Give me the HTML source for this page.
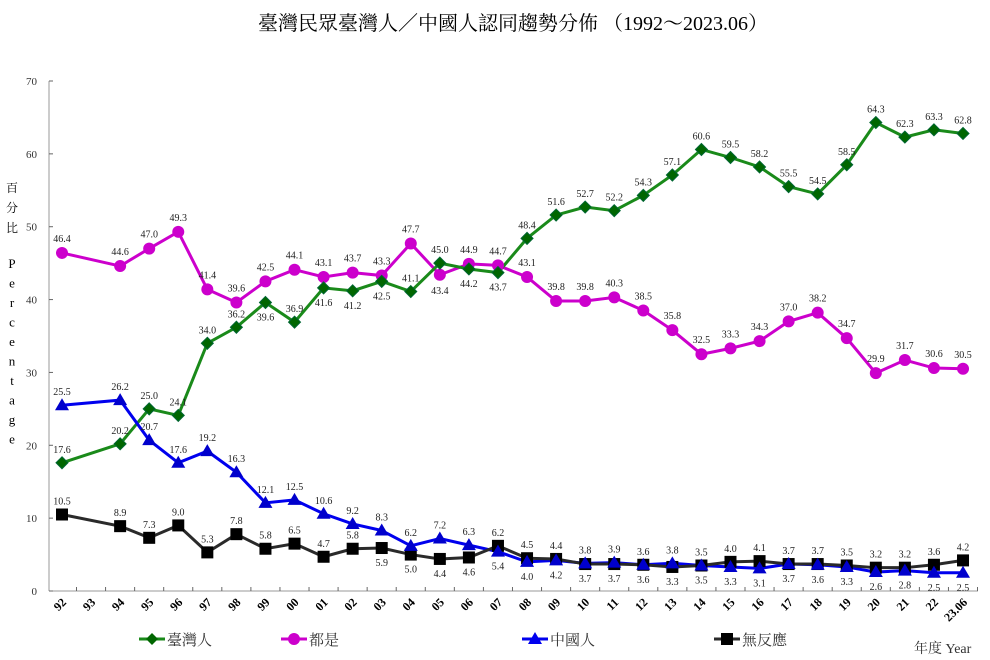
<!DOCTYPE html>
<html><head><meta charset="utf-8"><style>
body{margin:0;background:#fff;width:990px;height:660px;overflow:hidden}
svg{display:block;font-family:"Liberation Serif","Noto Serif CJK SC",serif}
</style></head><body>
<svg id="s" width="990" height="660" xmlns="http://www.w3.org/2000/svg"></svg>
<script>
const s=document.getElementById('s');let h='';
const X0=62,DX=29.065,Y0=591,K=510/70;
const X=i=>X0+i*DX, Y=v=>Y0-v*K;
h+=`<text x="513" y="30" text-anchor="middle" font-size="20" font-family="Liberation Serif,Noto Serif CJK TC,serif">臺灣民眾臺灣人／中國人認同趨勢分佈 （1992～2023.06）</text>`;
h+=`<line x1="49" y1="81" x2="49" y2="591" stroke="#999"/><line x1="49" y1="591" x2="978" y2="591" stroke="#999"/>`;
for(let v=0;v<=70;v+=10){h+=`<line x1="49" x2="53" y1="${Y(v)}" y2="${Y(v)}" stroke="#666"/><text x="37" y="${Y(v)+4}" text-anchor="end" font-size="11" fill="#333">${v}</text>`;}
const labs=['92','93','94','95','96','97','98','99','00','01','02','03','04','05','06','07','08','09','10','11','12','13','14','15','16','17','18','19','20','21','22','23.06'];
labs.forEach((l,i)=>{const x=X(i)+14.5;h+=`<line x1="${x}" x2="${x}" y1="587" y2="591" stroke="#666"/>`;
h+=`<text transform="translate(${X(i)+5},${603}) rotate(-45)" text-anchor="end" font-size="12" font-weight="bold">${l}</text>`;});
['百','分','比'].forEach((c,i)=>h+=`<text x="12" y="${192+i*20}" font-size="12" text-anchor="middle">${c}</text>`);
'Percentage'.split('').forEach((c,i)=>h+=`<text x="12" y="${268+i*19.5}" font-size="13" text-anchor="middle">${c}</text>`);
const xs=[0,2,3,4,5,6,7,8,9,10,11,12,13,14,15,16,17,18,19,20,21,22,23,24,25,26,27,28,29,30,31];
const T=[17.6,20.2,25.0,24.1,34.0,36.2,39.6,36.9,41.6,41.2,42.5,41.1,45.0,44.2,43.7,48.4,51.6,52.7,52.2,54.3,57.1,60.6,59.5,58.2,55.5,54.5,58.5,64.3,62.3,63.3,62.8];
const Tp='aaaaaababbbaabb'+'aaaaaaaaaaaaaaaa';
const B=[46.4,44.6,47.0,49.3,41.4,39.6,42.5,44.1,43.1,43.7,43.3,47.7,43.4,44.9,44.7,43.1,39.8,39.8,40.3,38.5,35.8,32.5,33.3,34.3,37.0,38.2,34.7,29.9,31.7,30.6,30.5];
const Bp='aaaaaaaaaaaabaaaaaaaaaaaaaaaaaa';
const C=[25.5,26.2,20.7,17.6,19.2,16.3,12.1,12.5,10.6,9.2,8.3,6.2,7.2,6.3,5.4,4.0,4.2,3.8,3.9,3.6,3.8,3.5,3.3,3.1,3.7,3.6,3.3,2.6,2.8,2.5,2.5];
const Cp='aaaaaaaaaaaaaabbbaaaaabbbbbbbbb';
const N=[10.5,8.9,7.3,9.0,5.3,7.8,5.8,6.5,4.7,5.8,5.9,5.0,4.4,4.6,6.2,4.5,4.4,3.7,3.7,3.6,3.3,3.5,4.0,4.1,3.7,3.7,3.5,3.2,3.2,3.6,4.2];
const Np='aaaaaaaaaa'+'bbbb'+'aaa'+'bbbbb'+'aaaaaaaaa';
function series(d,col){
 const pts=d.map((v,i)=>[X(xs[i]),Y(v)]);
 h+=`<polyline points="${pts.map(q=>q.join(',')).join(' ')}" fill="none" stroke="${col}" stroke-width="3"/>`;
 return pts;
}
function marks(pts,col,mk,d,p,off){
 pts.forEach(([x,y],i)=>{
  if(mk=='d')h+=`<polygon points="${x},${y-6} ${x+6},${y} ${x},${y+6} ${x-6},${y}" fill="${col}" stroke="#063" stroke-width="1"/>`;
  if(mk=='c')h+=`<circle cx="${x}" cy="${y}" r="6" fill="${col}"/>`;
  if(mk=='t')h+=`<polygon points="${x},${y-7} ${x+7},${y+5} ${x-7},${y+5}" fill="${col}"/>`;
  if(mk=='s')h+=`<rect x="${x-6}" y="${y-6}" width="12" height="12" fill="#000"/>`;
  const ty=p[i]=='a'?y-off:y+off+8;
  h+=`<text x="${x}" y="${ty}" font-size="10" text-anchor="middle" fill="#222">${d[i].toFixed(1)}</text>`;
 });
}
const pb=series(B,'#cc00cc'),pt=series(T,'#1a8a1a'),pc=series(C,'#0000ee'),pn=series(N,'#2a2a2a');
marks(pn,'#000','s',N,Np,10);marks(pc,'#0000cc','t',C,Cp,10);marks(pb,'#cc00cc','c',B,Bp,11);marks(pt,'#006600','d',T,Tp,10);
function leg(x,col,mk,t){h+=`<line x1="${x}" x2="${x+26}" y1="639" y2="639" stroke="${col}" stroke-width="3"/>`;
 const c=x+13;if(mk=='d')h+=`<polygon points="${c},633 ${c+6},639 ${c},645 ${c-6},639" fill="#006600"/>`;
 if(mk=='c')h+=`<circle cx="${c}" cy="639" r="6" fill="${col}"/>`;
 if(mk=='t')h+=`<polygon points="${c},632 ${c+7},644 ${c-7},644" fill="${col}"/>`;
 if(mk=='s')h+=`<rect x="${c-6}" y="633" width="12" height="12" fill="#000"/>`;
 h+=`<text x="${x+28}" y="645" font-size="15" font-family="Liberation Serif,Noto Serif CJK TC,serif" fill="#333">${t}</text>`;}
leg(139,'#1a8a1a','d','臺灣人');leg(281,'#cc00cc','c','都是');leg(522,'#0000ee','t','中國人');leg(714,'#2a2a2a','s','無反應');
h+=`<text x="914" y="653" font-size="14" font-family="Liberation Serif,Noto Serif CJK TC,serif" fill="#333">年度 Year</text>`;
s.innerHTML=h;
</script>
</body></html>
